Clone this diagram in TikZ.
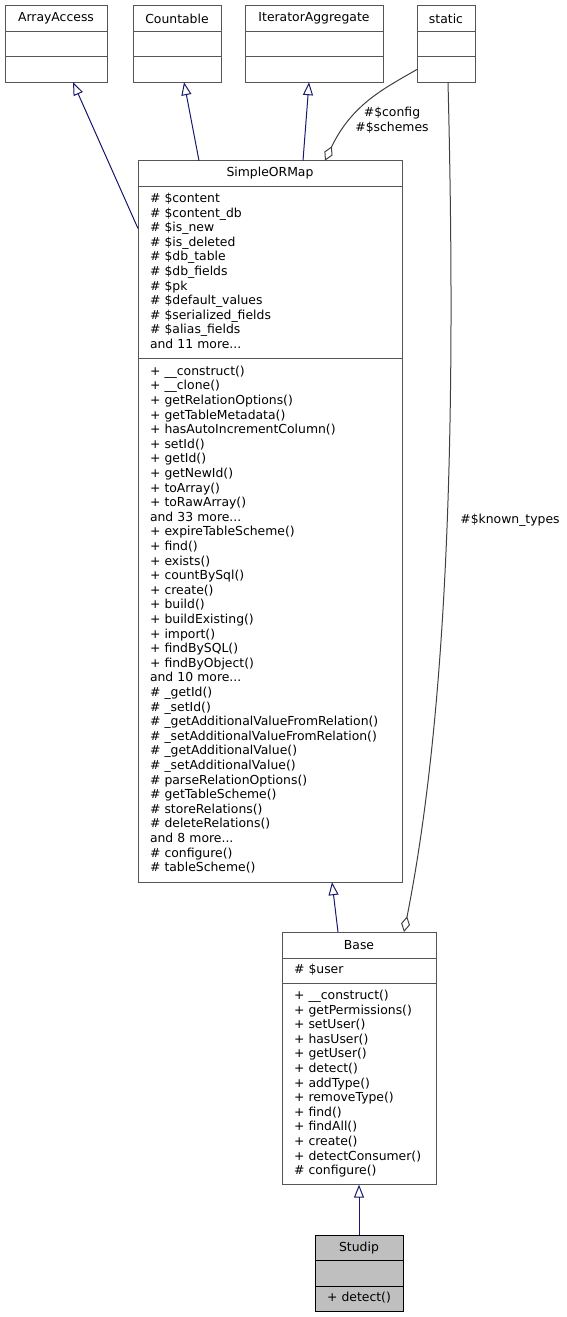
\documentclass[tikz,border=0pt]{standalone}
\usepackage{fontspec}
\setmainfont{DejaVu Sans}
\usetikzlibrary{positioning,arrows.meta}

\definecolor{edgeblue}{HTML}{191970}
\definecolor{edgegray}{HTML}{404040}
\definecolor{boxgray}{HTML}{555555}
\definecolor{focusfill}{HTML}{BFBFBF}
\newcommand\umlfont{\fontsize{12.4}{14.6}\selectfont}

\tikzset{
  classhead/.style={draw=boxgray, line width=1pt, fill=white, inner sep=0pt, outer sep=0pt, minimum height=25.5pt, anchor=north, font=\umlfont},
  classpart/.style={draw=boxgray, line width=1pt, fill=white, inner xsep=12pt, inner ysep=5.5pt, outer sep=0pt, minimum height=25.5pt, align=left, font=\umlfont},
  focus/.style={draw=black, fill=focusfill},
  inherit/.style={draw=edgeblue, line width=1pt, -{Triangle[open, length=13pt, width=10pt]}},
  member/.style={draw=edgegray, line width=1pt, {Diamond[open, length=16pt, width=9pt]}-},
  edgelabel/.style={font=\umlfont, align=center, inner sep=0pt}
}

\begin{document}
\begin{tikzpicture}[x=1pt,y=-1pt]
\useasboundingbox (0,0) rectangle (567,1317);

% interfaces and static
\node[classhead, minimum width=102pt] (arrayaccess) at (56,5.7) {ArrayAccess};
\node[classpart, text width=78pt, below=0pt of arrayaccess] (arrayaccess-attr) {};
\node[classpart, text width=78pt, below=0pt of arrayaccess-attr] (arrayaccess-ops) {};

\node[classhead, minimum width=88pt] (countable) at (177,5.7) {Countable};
\node[classpart, text width=64pt, below=0pt of countable] (countable-attr) {};
\node[classpart, text width=64pt, below=0pt of countable-attr] (countable-ops) {};

\node[classhead, minimum width=138pt] (iteratoraggregate) at (314,5.7) {IteratorAggregate};
\node[classpart, text width=114pt, below=0pt of iteratoraggregate] (iteratoraggregate-attr) {};
\node[classpart, text width=114pt, below=0pt of iteratoraggregate-attr] (iteratoraggregate-ops) {};

\node[classhead, minimum width=58pt] (static) at (446,5.7) {static};
\node[classpart, text width=34pt, below=0pt of static] (static-attr) {};
\node[classpart, text width=34pt, below=0pt of static-attr] (static-ops) {};

% SimpleORMap
\node[classhead, minimum width=264pt] (simpleormap) at (270,160.7) {SimpleORMap};
\node[classpart, text width=240pt, minimum height=172.6pt, below=0pt of simpleormap] (simpleormap-attr) {\strut\# \$content\\
\# \$content\_db\\
\# \$is\_new\\
\# \$is\_deleted\\
\# \$db\_table\\
\# \$db\_fields\\
\# \$pk\\
\# \$default\_values\\
\# \$serialized\_fields\\
\# \$alias\_fields\\
and 11 more...\strut};
\node[classpart, text width=240pt, minimum height=523.4pt, below=0pt of simpleormap-attr] (simpleormap-ops) {\strut+ \_\_construct()\\
+ \_\_clone()\\
+ getRelationOptions()\\
+ getTableMetadata()\\
+ hasAutoIncrementColumn()\\
+ setId()\\
+ getId()\\
+ getNewId()\\
+ toArray()\\
+ toRawArray()\\
and 33 more...\\
+ expireTableScheme()\\
+ find()\\
+ exists()\\
+ countBySql()\\
+ create()\\
+ build()\\
+ buildExisting()\\
+ import()\\
+ findBySQL()\\
+ findByObject()\\
and 10 more...\\
\# \_getId()\\
\# \_setId()\\
\# \_getAdditionalValueFromRelation()\\
\# \_setAdditionalValueFromRelation()\\
\# \_getAdditionalValue()\\
\# \_setAdditionalValue()\\
\# parseRelationOptions()\\
\# getTableScheme()\\
\# storeRelations()\\
\# deleteRelations()\\
and 8 more...\\
\# configure()\\
\# tableScheme()\strut};

% Base
\node[classhead, minimum width=154pt, minimum height=26pt] (base) at (359,932) {Base};
\node[classpart, text width=130pt, below=0pt of base] (base-attr) {\strut\# \$user\strut};
\node[classpart, text width=130pt, minimum height=201pt, below=0pt of base-attr] (base-ops) {\strut+ \_\_construct()\\
+ getPermissions()\\
+ setUser()\\
+ hasUser()\\
+ getUser()\\
+ detect()\\
+ addType()\\
+ removeType()\\
+ find()\\
+ findAll()\\
+ create()\\
+ detectConsumer()\\
\# configure()\strut};

% Studip
\node[classhead, focus, minimum width=88pt] (studip) at (359,1235) {Studip};
\node[classpart, focus, text width=64pt, below=0pt of studip] (studip-attr) {};
\node[classpart, focus, text width=64pt, below=0pt of studip-attr] (studip-ops) {\strut+ detect()\strut};

% inheritance
\draw[inherit] ([yshift=44pt]simpleormap-attr.west) -- ([xshift=17pt]arrayaccess-ops.south);
\draw[inherit] ([xshift=-71pt]simpleormap.north) -- ([xshift=7pt]countable-ops.south);
\draw[inherit] ([xshift=33pt]simpleormap.north) -- ([xshift=-5pt]iteratoraggregate-ops.south);
\draw[inherit] ([xshift=-21pt]base.north) -- ([xshift=62pt]simpleormap-ops.south);
\draw[inherit] (studip.north) -- (base-ops.south);

% members
\draw[member] ([xshift=55pt]simpleormap.north) .. controls (352,104) and (385,88) .. (static-ops.west);
\node[edgelabel] (config-label) at (392,120) {\#\$config\\\#\$schemes};
\draw[member] ([xshift=45pt]base.north) .. controls (450,700) and (456,400) .. ([xshift=2pt]static-ops.south);
\node[edgelabel] (types-label) at (510,520) {\#\$known\_types};
\end{tikzpicture}
\end{document}
